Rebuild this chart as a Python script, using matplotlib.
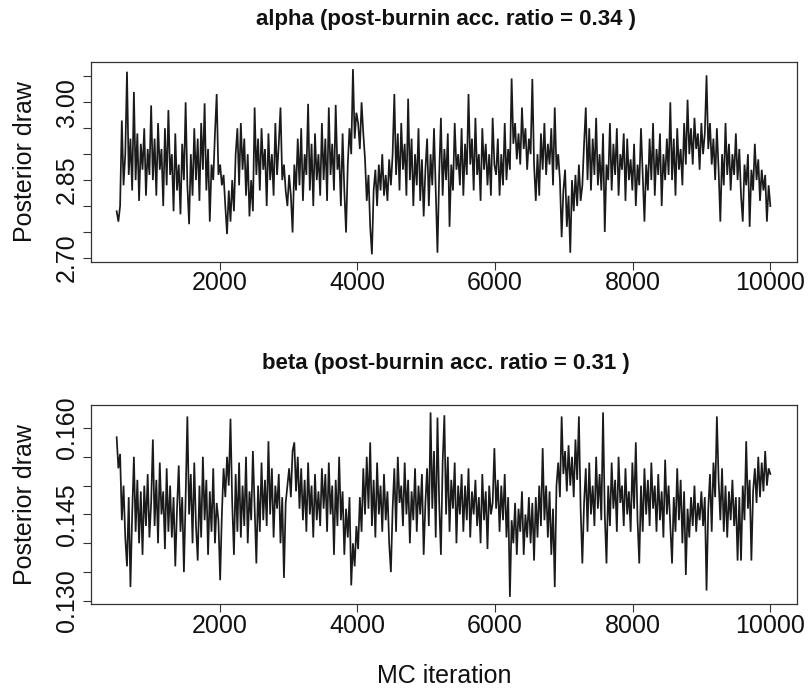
import numpy as np
import matplotlib
matplotlib.use("Agg")
import matplotlib.pyplot as plt

plt.rcParams['font.family'] = ['Liberation Sans', 'DejaVu Sans']

# ---- data (iterations 501..10000) ----
alpha_draws = [
    2.790, 2.770, 2.800, 2.965, 2.840, 2.900, 3.059, 2.860, 2.930, 2.830, 3.020, 2.850, 2.940, 2.810, 2.920, 2.870, 2.950, 2.820, 2.910, 2.860,
    2.994, 2.850, 2.930, 2.820, 2.960, 2.870, 2.910, 2.800, 2.950, 2.840, 2.985, 2.860, 2.900, 2.790, 2.940, 2.830, 2.880, 2.784, 2.920, 2.850,
    3.000, 2.840, 2.765, 2.900, 2.820, 2.950, 2.850, 2.930, 2.810, 2.960, 2.870, 2.998, 2.830, 2.910, 2.770, 2.880, 2.850, 2.940, 3.016, 2.860,
    2.880, 2.840, 2.860, 2.800, 2.746, 2.830, 2.770, 2.850, 2.790, 2.900, 2.950, 2.840, 2.960, 2.870, 2.930, 2.820, 2.900, 2.780, 2.850, 2.790,
    2.990, 2.860, 2.930, 2.830, 2.950, 2.870, 2.910, 2.800, 2.940, 2.850, 2.900, 2.820, 2.960, 2.860, 2.920, 2.990, 2.850, 2.880, 2.830, 2.800,
    2.860, 2.820, 2.749, 2.880, 2.830, 2.930, 2.840, 2.950, 2.810, 2.900, 2.860, 2.997, 2.830, 2.920, 2.800, 2.940, 2.850, 2.900, 2.820, 2.960,
    2.850, 2.930, 2.810, 2.990, 2.860, 2.920, 2.830, 2.995, 2.870, 2.900, 2.800, 2.940, 2.830, 2.749, 2.880, 2.950, 2.900, 3.064, 2.930, 2.980,
    2.960, 2.910, 3.000, 2.940, 2.890, 2.810, 2.860, 2.760, 2.707, 2.830, 2.870, 2.800, 2.880, 2.830, 2.900, 2.820, 2.860, 2.810, 2.890, 2.840,
    2.900, 3.016, 2.860, 2.940, 2.830, 2.960, 2.870, 2.920, 2.820, 3.007, 2.850, 2.930, 2.800, 2.900, 2.840, 2.950, 2.810, 2.890, 2.780, 2.870,
    2.930, 2.800, 2.900, 2.840, 2.950, 2.830, 2.710, 2.860, 2.970, 2.820, 2.910, 2.850, 2.940, 2.760, 2.880, 2.830, 2.960, 2.870, 2.900, 2.840,
    2.950, 2.820, 2.920, 2.860, 3.016, 2.880, 2.930, 2.830, 2.970, 2.860, 2.900, 2.810, 2.950, 2.870, 2.920, 2.840, 2.900, 2.820, 2.970, 2.880,
    2.860, 2.930, 2.820, 2.900, 2.840, 2.960, 2.850, 2.910, 2.870, 3.046, 2.920, 2.960, 2.890, 2.940, 2.880, 2.990, 2.910, 2.950, 2.870, 2.930,
    2.900, 3.045, 2.880, 2.810, 2.900, 2.820, 2.940, 2.870, 2.960, 2.860, 2.920, 2.880, 2.950, 2.840, 2.990, 2.870, 2.900, 2.850, 2.740, 2.830,
    2.870, 2.760, 2.820, 2.710, 2.850, 2.790, 2.860, 2.800, 2.880, 2.810, 2.840, 2.920, 2.990, 2.850, 2.950, 2.830, 2.930, 2.860, 2.970, 2.840,
    2.900, 2.830, 2.940, 2.750, 2.880, 2.850, 2.960, 2.830, 2.920, 2.860, 2.950, 2.820, 2.900, 2.870, 2.940, 2.810, 2.930, 2.850, 2.890, 2.830,
    2.920, 2.800, 2.880, 2.840, 2.950, 2.860, 2.770, 2.880, 2.830, 2.930, 2.850, 2.960, 2.820, 2.910, 2.860, 2.940, 2.800, 2.900, 2.850, 2.930,
    2.860, 3.000, 2.850, 2.930, 2.820, 2.950, 2.870, 2.910, 2.840, 2.960, 2.880, 3.005, 2.900, 2.950, 2.880, 2.970, 2.910, 2.940, 2.870, 2.960,
    2.900, 2.940, 3.052, 2.910, 2.960, 2.880, 2.930, 2.850, 2.950, 2.870, 2.770, 2.900, 2.840, 2.960, 2.860, 2.920, 2.830, 2.900, 2.860, 2.940,
    2.850, 2.910, 2.820, 2.770, 2.880, 2.840, 2.900, 2.760, 2.870, 2.830, 2.920, 2.850, 2.890, 2.810, 2.870, 2.830, 2.860, 2.770, 2.840, 2.800,
]

beta_draws = [
    0.1584, 0.1530, 0.1555, 0.1440, 0.1500, 0.1410, 0.1360, 0.1480, 0.1324, 0.1450, 0.1550, 0.1420, 0.1510, 0.1400, 0.1490, 0.1380, 0.1500, 0.1430, 0.1520, 0.1410,
    0.1470, 0.1580, 0.1430, 0.1510, 0.1400, 0.1540, 0.1450, 0.1490, 0.1390, 0.1530, 0.1420, 0.1500, 0.1410, 0.1480, 0.1360, 0.1460, 0.1535, 0.1420, 0.1480, 0.1350,
    0.1480, 0.1620, 0.1450, 0.1520, 0.1400, 0.1540, 0.1430, 0.1370, 0.1500, 0.1410, 0.1550, 0.1440, 0.1510, 0.1380, 0.1490, 0.1420, 0.1530, 0.1400, 0.1470, 0.1440,
    0.1336, 0.1450, 0.1530, 0.1480, 0.1550, 0.1500, 0.1616, 0.1470, 0.1380, 0.1520, 0.1420, 0.1540, 0.1410, 0.1500, 0.1430, 0.1550, 0.1400, 0.1490, 0.1440, 0.1560,
    0.1460, 0.1365, 0.1500, 0.1420, 0.1540, 0.1440, 0.1510, 0.1430, 0.1577, 0.1450, 0.1530, 0.1410, 0.1500, 0.1460, 0.1520, 0.1400, 0.1480, 0.1340, 0.1470, 0.1500,
    0.1530, 0.1480, 0.1560, 0.1575, 0.1490, 0.1550, 0.1460, 0.1530, 0.1440, 0.1510, 0.1420, 0.1540, 0.1450, 0.1500, 0.1410, 0.1520, 0.1440, 0.1490, 0.1430, 0.1530,
    0.1460, 0.1520, 0.1420, 0.1540, 0.1450, 0.1500, 0.1380, 0.1510, 0.1430, 0.1550, 0.1440, 0.1490, 0.1380, 0.1460, 0.1410, 0.1480, 0.1327, 0.1400, 0.1360, 0.1430,
    0.1390, 0.1480, 0.1420, 0.1530, 0.1450, 0.1550, 0.1460, 0.1575, 0.1430, 0.1510, 0.1410, 0.1540, 0.1450, 0.1500, 0.1420, 0.1520, 0.1440, 0.1490, 0.1400, 0.1350,
    0.1460, 0.1530, 0.1420, 0.1550, 0.1470, 0.1500, 0.1430, 0.1540, 0.1450, 0.1510, 0.1400, 0.1490, 0.1440, 0.1530, 0.1420, 0.1500, 0.1450, 0.1520, 0.1380, 0.1470,
    0.1530, 0.1430, 0.1627, 0.1460, 0.1560, 0.1410, 0.1618, 0.1470, 0.1380, 0.1540, 0.1622, 0.1450, 0.1550, 0.1420, 0.1510, 0.1460, 0.1540, 0.1400, 0.1500, 0.1450,
    0.1520, 0.1420, 0.1500, 0.1440, 0.1530, 0.1410, 0.1490, 0.1450, 0.1510, 0.1430, 0.1480, 0.1400, 0.1520, 0.1440, 0.1490, 0.1390, 0.1500, 0.1450, 0.1470, 0.1565,
    0.1460, 0.1510, 0.1420, 0.1500, 0.1440, 0.1520, 0.1410, 0.1480, 0.1307, 0.1440, 0.1400, 0.1470, 0.1380, 0.1460, 0.1420, 0.1490, 0.1380, 0.1450, 0.1410, 0.1480,
    0.1400, 0.1470, 0.1370, 0.1480, 0.1410, 0.1500, 0.1430, 0.1565, 0.1440, 0.1500, 0.1410, 0.1490, 0.1380, 0.1460, 0.1324, 0.1500, 0.1540, 0.1480, 0.1620, 0.1520,
    0.1560, 0.1490, 0.1570, 0.1500, 0.1550, 0.1480, 0.1580, 0.1510, 0.1620, 0.1460, 0.1365, 0.1470, 0.1530, 0.1420, 0.1540, 0.1450, 0.1500, 0.1430, 0.1550, 0.1460,
    0.1520, 0.1440, 0.1627, 0.1450, 0.1365, 0.1500, 0.1430, 0.1540, 0.1460, 0.1510, 0.1420, 0.1550, 0.1470, 0.1500, 0.1430, 0.1530, 0.1450, 0.1490, 0.1420, 0.1540,
    0.1460, 0.1575, 0.1440, 0.1365, 0.1500, 0.1420, 0.1530, 0.1450, 0.1510, 0.1430, 0.1540, 0.1460, 0.1500, 0.1420, 0.1520, 0.1440, 0.1490, 0.1410, 0.1545, 0.1450,
    0.1500, 0.1430, 0.1365, 0.1480, 0.1420, 0.1530, 0.1440, 0.1510, 0.1400, 0.1490, 0.1345, 0.1460, 0.1410, 0.1480, 0.1430, 0.1500, 0.1420, 0.1470, 0.1440, 0.1490,
    0.1430, 0.1480, 0.1318, 0.1460, 0.1520, 0.1420, 0.1540, 0.1480, 0.1620, 0.1510, 0.1440, 0.1530, 0.1420, 0.1500, 0.1410, 0.1490, 0.1440, 0.1510, 0.1430, 0.1480,
    0.1370, 0.1480, 0.1370, 0.1500, 0.1440, 0.1577, 0.1460, 0.1510, 0.1370, 0.1490, 0.1530, 0.1470, 0.1550, 0.1480, 0.1540, 0.1490, 0.1560, 0.1500, 0.1530, 0.1520,
]

iter_start, iter_end = 501, 10000
x_ticks = [2000, 4000, 6000, 8000, 10000]
alpha_yticks = [2.70, 2.75, 2.80, 2.85, 2.90, 2.95, 3.00, 3.05]
alpha_ylabels = ["2.70", "", "", "2.85", "", "", "3.00", ""]
beta_yticks = [0.130, 0.135, 0.140, 0.145, 0.150, 0.155, 0.160]
beta_ylabels = ["0.130", "", "", "0.145", "", "", "0.160"]
titles = ["alpha (post-burnin acc. ratio = 0.34 )", "beta (post-burnin acc. ratio = 0.31 )"]
ylabel = "Posterior draw"
xlabel = "MC iteration"

# ---- figure ----
W, H = 811, 690
fig = plt.figure(figsize=(W / 100, H / 100), dpi=100)
fig.patch.set_facecolor("white")

ink = "#1a1a1a"
frame = "#333333"

def make_axes(top_px, bot_px):
    return fig.add_axes([90.5 / W, 1 - bot_px / H, 706 / W, (bot_px - top_px) / H])

panels = [
    (make_axes(61.7, 261.7), alpha_draws, alpha_yticks, alpha_ylabels, titles[0], 20),
    (make_axes(405.0, 604.3), beta_draws, beta_yticks, beta_ylabels, titles[1], 363),
]

for ax, vals, yt, yl, title, title_y in panels:
    vals = np.asarray(vals)
    xs = np.linspace(iter_start, iter_end, len(vals))
    ax.plot(xs, vals, color=ink, lw=1.25, solid_joinstyle="miter")
    span_x = iter_end - iter_start
    ax.set_xlim(iter_start - 0.04 * span_x, iter_end + 0.04 * span_x)
    span_y = vals.max() - vals.min()
    ax.set_ylim(vals.min() - 0.04 * span_y, vals.max() + 0.04 * span_y)
    ax.set_xticks(x_ticks)
    ax.set_xticklabels([str(t) for t in x_ticks], fontsize=18, color="#111111")
    ax.set_yticks(yt)
    ax.set_yticklabels(yl, fontsize=18, rotation=90, va="center", color="#111111")
    ax.tick_params(axis="both", direction="out", length=6, width=0.8, color=frame)
    ax.tick_params(axis="y", pad=2.5)
    ax.tick_params(axis="x", pad=1.0)
    for sp in ax.spines.values():
        sp.set_color(frame)
        sp.set_linewidth(0.9)
    ax.set_facecolor("white")
    fig.text(446 / W, 1 - title_y / H, title, ha="center", va="center",
             fontsize=16, fontweight="bold", color="#111111")
    cy = (ax.get_position().y0 + ax.get_position().y1) / 2
    fig.text(25 / W, cy, ylabel, rotation=90, ha="center", va="center",
             fontsize=18, color="#111111")

fig.text(444 / W, 1 - 676 / H, xlabel, ha="center", va="center", fontsize=18, color="#111111")

fig.savefig("out.png", dpi=100, facecolor="white")
